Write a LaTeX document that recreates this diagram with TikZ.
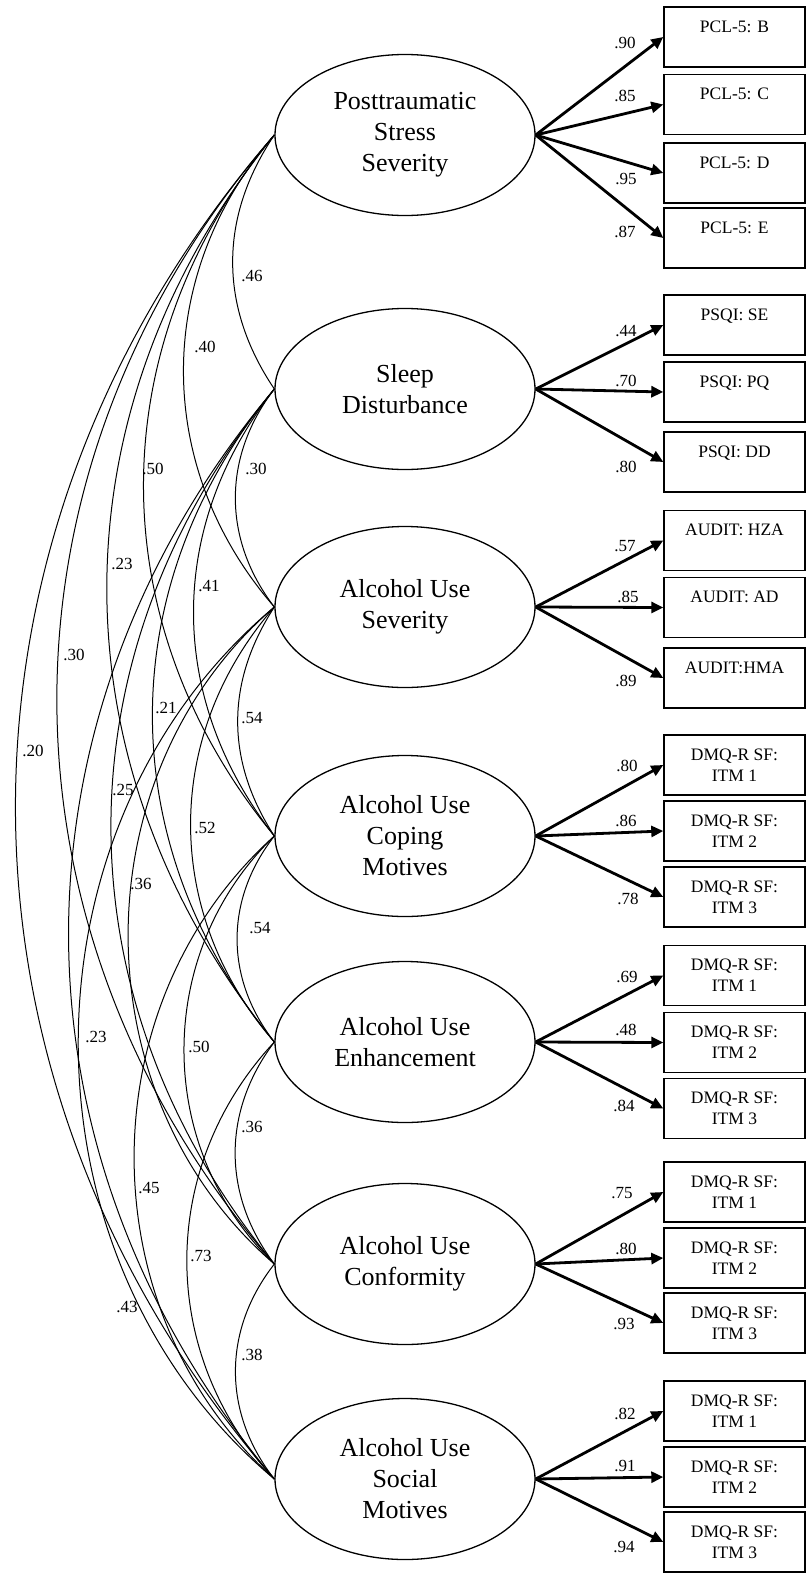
\documentclass[tikz,border=0pt]{standalone}
\usepackage{fontspec}
\setmainfont{Liberation Serif}
\usetikzlibrary{shapes.geometric,arrows.meta}
\begin{document}
\begin{tikzpicture}[x=1pt,y=-1pt,
  lat/.style={ellipse,draw,line width=1.3pt,minimum width=260pt,minimum height=161pt,inner sep=0pt,align=center,font=\fontsize{26}{31}\selectfont},
  obs/.style={rectangle,draw,line width=1.4pt,minimum width=141pt,minimum height=60pt,inner sep=0pt,align=center,font=\fontsize{17.5}{21}\selectfont},
  load/.style={line width=2.8pt,-{Triangle[length=12pt,width=11pt]}},
  cov/.style={line width=1pt},
  lab/.style={inner sep=0pt,font=\fontsize{17}{20}\selectfont}]
\useasboundingbox (0,0) rectangle (809,1574);
% latent variables
\node[lat] (L1) at (405,135) {Posttraumatic\\Stress\\Severity};
\node[lat] (L2) at (405,389) {Sleep\\Disturbance};
\node[lat] (L3) at (405,607) {Alcohol Use\\Severity};
\node[lat] (L4) at (405,836) {Alcohol Use\\Coping\\Motives};
\node[lat] (L5) at (405,1042) {Alcohol Use\\Enhancement};
\node[lat] (L6) at (405,1264) {Alcohol Use\\Conformity};
\node[lat] (L7) at (405,1479) {Alcohol Use\\Social\\Motives};
% indicators
\node[obs] (B1a) at (734.5,37) {PCL-5: B\\~};
\node[obs] (B1b) at (734.5,104.5) {PCL-5: C\\~};
\node[obs] (B1c) at (734.5,173) {PCL-5: D\\~};
\node[obs] (B1d) at (734.5,238) {PCL-5: E\\~};
\node[obs] (B2a) at (734.5,325) {PSQI: SE\\~};
\node[obs] (B2b) at (734.5,392) {PSQI: PQ\\~};
\node[obs] (B2c) at (734.5,462) {PSQI: DD\\~};
\node[obs] (B3a) at (734.5,540.5) {AUDIT: HZA\\~};
\node[obs] (B3b) at (734.5,607.5) {AUDIT: AD\\~};
\node[obs] (B3c) at (734.5,678) {AUDIT:HMA\\~};
\node[obs] (B4a) at (734.5,765) {DMQ-R SF:\\ITM 1};
\node[obs] (B4b) at (734.5,831) {DMQ-R SF:\\ITM 2};
\node[obs] (B4c) at (734.5,897) {DMQ-R SF:\\ITM 3};
\node[obs] (B5a) at (734.5,975.5) {DMQ-R SF:\\ITM 1};
\node[obs] (B5b) at (734.5,1042.5) {DMQ-R SF:\\ITM 2};
\node[obs] (B5c) at (734.5,1108.5) {DMQ-R SF:\\ITM 3};
\node[obs] (B6a) at (734.5,1192) {DMQ-R SF:\\ITM 1};
\node[obs] (B6b) at (734.5,1258) {DMQ-R SF:\\ITM 2};
\node[obs] (B6c) at (734.5,1323) {DMQ-R SF:\\ITM 3};
\node[obs] (B7a) at (734.5,1411) {DMQ-R SF:\\ITM 1};
\node[obs] (B7b) at (734.5,1477) {DMQ-R SF:\\ITM 2};
\node[obs] (B7c) at (734.5,1542) {DMQ-R SF:\\ITM 3};
% loadings
\foreach \l/\b in {L1/B1a,L1/B1b,L1/B1c,L1/B1d,L2/B2a,L2/B2b,L2/B2c,L3/B3a,L3/B3b,L3/B3c,
  L4/B4a,L4/B4b,L4/B4c,L5/B5a,L5/B5b,L5/B5c,L6/B6a,L6/B6b,L6/B6c,L7/B7a,L7/B7b,L7/B7c}
  \draw[load] (\l.east) -- (\b.west);
\node[lab] (w1a) at (625,43) {.90};
\node[lab] (w1b) at (625,96) {.85};
\node[lab] (w1c) at (626,179) {.95};
\node[lab] (w1d) at (625,232) {.87};
\node[lab] (w2a) at (626,331) {.44};
\node[lab] (w2b) at (626,381) {.70};
\node[lab] (w2c) at (626,467) {.80};
\node[lab] (w3a) at (625,546) {.57};
\node[lab] (w3b) at (628,597) {.85};
\node[lab] (w3c) at (626,681) {.89};
\node[lab] (w4a) at (627,766) {.80};
\node[lab] (w4b) at (626,821) {.86};
\node[lab] (w4c) at (628,899) {.78};
\node[lab] (w5a) at (627,977) {.69};
\node[lab] (w5b) at (626,1030) {.48};
\node[lab] (w5c) at (624,1106) {.84};
\node[lab] (w6a) at (622,1193) {.75};
\node[lab] (w6b) at (626,1249) {.80};
\node[lab] (w6c) at (624,1324) {.93};
\node[lab] (w7a) at (625,1414) {.82};
\node[lab] (w7b) at (625,1466) {.91};
\node[lab] (w7c) at (624,1547) {.94};
% covariances (near-circular arcs bulging to the left)
\foreach \i/\j/\a/\b in {1/2/55.6/82.4, 1/3/121.2/139.5, 1/4/174.5/211.8, 1/5/223.4/275.9,
  1/6/290.0/333.7, 1/7/345.2/397.3, 2/3/52.0/67.7, 2/4/107.8/137.9, 2/5/162.6/197.3,
  2/6/217.9/264.5, 2/7/274.4/326.9, 3/4/48.9/75.2, 3/5/111.7/128.6, 3/6/195.0/168.0,
  3/7/261.5/219.5, 4/5/49.7/63.5, 4/6/120.5/116.5, 4/7/187.0/168.4, 5/6/52.3/69.4,
  5/7/116.7/125.1, 6/7/51.9/66.3}
  \draw[cov] (L\i.west) .. controls +(-\a,\b) and +(-\a,-\b) .. (L\j.west);
\node[lab] (c12) at (252,276) {.46};
\node[lab] (c13) at (205,347) {.40};
\node[lab] (c14) at (153,469) {.50};
\node[lab] (c15) at (122,564) {.23};
\node[lab] (c16) at (74,655) {.30};
\node[lab] (c17) at (33,751) {.20};
\node[lab] (c23) at (256,469) {.30};
\node[lab] (c24) at (209,586) {.41};
\node[lab] (c25) at (166,708) {.21};
\node[lab] (c26) at (123,790) {.25};
\node[lab] (c27) at (127,1307) {.43};
\node[lab] (c34) at (252,718) {.54};
\node[lab] (c35) at (205,828) {.52};
\node[lab] (c36) at (141,884) {.36};
\node[lab] (c37) at (96,1037) {.23};
\node[lab] (c45) at (260,928) {.54};
\node[lab] (c46) at (199,1047) {.50};
\node[lab] (c47) at (149,1188) {.45};
\node[lab] (c56) at (252,1127) {.36};
\node[lab] (c57) at (201,1256) {.73};
\node[lab] (c67) at (252,1355) {.38};
\end{tikzpicture}
\end{document}
